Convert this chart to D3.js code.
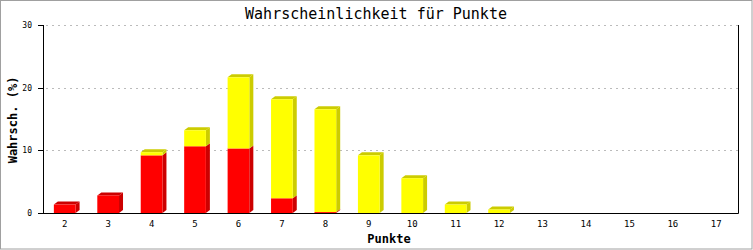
<!DOCTYPE html>
<html>
<head>
<meta charset="utf-8">
<script src="https://cdn.jsdelivr.net/npm/d3@7"></script>
<style>
  body { margin: 0; background: #fff; }
  text { font-family: "DejaVu Sans Mono", "Liberation Mono", monospace; }
</style>
</head>
<body>
<div id="chart"></div>
<script>
// Data
let categories = ["2", "3", "4", "5", "6", "7", "8", "9", "10", "11", "12", "13", "14", "15", "16", "17"];
let redValues = [1.35, 2.8, 9.2, 10.65, 10.3, 2.35, 0.15, 0, 0, 0, 0, 0, 0, 0, 0, 0];
let yellowValues = [0, 0, 0.5, 2.55, 11.35, 15.8, 16.4, 9.2, 5.55, 1.35, 0.56, 0, 0, 0, 0, 0];
let yTicks = [0, 10, 20, 30];

let width = 753, height = 250;
let margin = {left: 43, right: 15, top: 25, bottom: 37};
let depthX = 4, depthY = 3;

let svg = d3.select("#chart")
    .append("svg")
    .attr("width", width)
    .attr("height", height);

// Outer frame
svg.append("rect")
    .attr("x", 0.5).attr("y", 0.5)
    .attr("width", width - 1.5).attr("height", height - 1.5)
    .attr("fill", "#fff")
    .attr("stroke", "#a0a0a0");

let x = d3.scaleBand()
    .domain(categories)
    .range([margin.left, width - margin.right])
    .paddingInner(0.5)
    .paddingOuter(0.25);

let y = d3.scaleLinear()
    .domain([0, 30])
    .range([height - margin.bottom, margin.top]);

// Dashed grid lines
svg.append("g")
    .selectAll("line")
    .data(yTicks.filter(d => d > 0))
    .enter()
    .append("line")
    .attr("x1", margin.left + 3)
    .attr("x2", width - margin.right)
    .attr("y1", d => Math.round(y(d)) + 0.5)
    .attr("y2", d => Math.round(y(d)) + 0.5)
    .attr("stroke", "#bbb")
    .attr("stroke-dasharray", "2,4");

// Stack red + yellow
let stackData = categories.map(function(c, i) {
    return {cat: c, red: redValues[i], yellow: yellowValues[i]};
});
let series = d3.stack().keys(["red", "yellow"])(stackData);
let fills = {red: "#ff0000", yellow: "#ffff00"};
let shades = {red: "#cc0000", yellow: "#cccc00"};

let bars = svg.append("g");
series.forEach(function(s) {
    s.forEach(function(d, i) {
        if (d[1] - d[0] <= 0) return;
        let cat = categories[i];
        let x0 = x(cat), w = x.bandwidth();
        let yTop = y(d[1]), yBot = y(d[0]);
        let isTop = (s.key === "yellow") || (yellowValues[i] === 0);
        // side face
        bars.append("polygon")
            .attr("points", [
                [x0 + w, yBot], [x0 + w + depthX, yBot - depthY],
                [x0 + w + depthX, yTop - depthY], [x0 + w, yTop]
            ].join(" "))
            .attr("fill", shades[s.key]);
        // top face
        if (isTop) {
            bars.append("polygon")
                .attr("points", [
                    [x0, yTop], [x0 + depthX, yTop - depthY],
                    [x0 + w + depthX, yTop - depthY], [x0 + w, yTop]
                ].join(" "))
                .attr("fill", shades[s.key]);
        }
        // front face
        bars.append("rect")
            .attr("x", x0)
            .attr("y", yTop)
            .attr("width", w)
            .attr("height", yBot - yTop)
            .attr("fill", fills[s.key]);
    });
});

// Axes lines
let yb = Math.round(y(0)) + 0.5;
svg.append("line")
    .attr("x1", margin.left + 0.5).attr("x2", margin.left + 0.5)
    .attr("y1", margin.top).attr("y2", yb)
    .attr("stroke", "#000");
svg.append("line")
    .attr("x1", margin.left).attr("x2", width - margin.right + 0.5)
    .attr("y1", yb).attr("y2", yb)
    .attr("stroke", "#000");
svg.append("line")
    .attr("x1", width - margin.right + 0.5).attr("x2", width - margin.right + 0.5)
    .attr("y1", margin.top).attr("y2", yb)
    .attr("stroke", "#000");

// Y ticks and labels
let yAxis = svg.append("g");
yAxis.selectAll("line")
    .data(yTicks)
    .enter()
    .append("line")
    .attr("x1", margin.left - 5).attr("x2", margin.left + 1)
    .attr("y1", d => Math.round(y(d)) + 0.5)
    .attr("y2", d => Math.round(y(d)) + 0.5)
    .attr("stroke", "#000");
yAxis.selectAll("text")
    .data(yTicks)
    .enter()
    .append("text")
    .attr("x", margin.left - 11)
    .attr("y", d => y(d) + 3)
    .style("text-anchor", "end")
    .style("font-size", "8px")
    .text(d => d);

// X labels
svg.append("g")
    .selectAll("text")
    .data(categories)
    .enter()
    .append("text")
    .attr("x", d => x(d) + x.bandwidth() / 2)
    .attr("y", 227)
    .style("text-anchor", "middle")
    .style("font-size", "9px")
    .text(d => d);

// Title
svg.append("text")
    .attr("x", 376)
    .attr("y", 19)
    .style("text-anchor", "middle")
    .style("font-size", "15px")
    .text("Wahrscheinlichkeit für Punkte");

// Axis titles
svg.append("text")
    .attr("transform", `translate(17, 120) rotate(-90)`)
    .style("text-anchor", "middle")
    .style("font-size", "12px")
    .style("font-weight", "bold")
    .text("Wahrsch. (%)");

svg.append("text")
    .attr("x", 389)
    .attr("y", 243)
    .style("text-anchor", "middle")
    .style("font-size", "12px")
    .style("font-weight", "bold")
    .text("Punkte");
</script>
</body>
</html>
